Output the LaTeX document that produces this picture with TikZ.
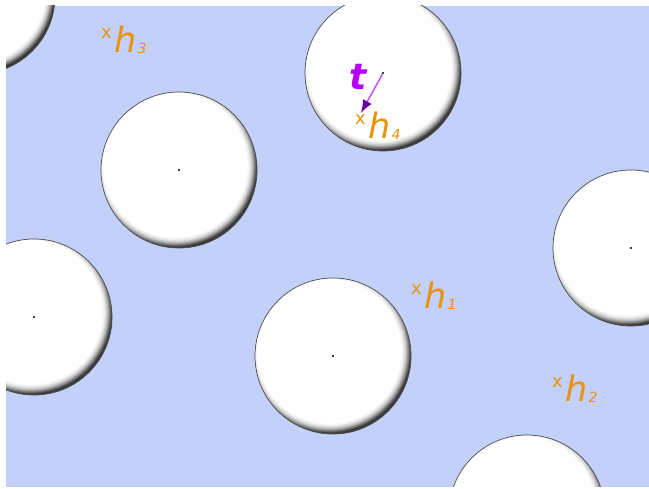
\documentclass[tikz,border=0pt]{standalone}
\usepackage{fontspec}
\setmainfont{DejaVu Sans}
\usetikzlibrary{arrows.meta,calc}
\definecolor{bgblue}{RGB}{195,209,250}
\definecolor{horange}{RGB}{234,146,12}
\definecolor{tviolet}{RGB}{184,0,255}
\definecolor{arrviolet}{RGB}{198,80,255}
\definecolor{headviolet}{RGB}{105,0,160}
\newcommand\hlab[1]{\raisebox{14pt}{\fontsize{18}{18}\selectfont\color{horange}x}\hspace{3pt}{\fontsize{35}{35}\selectfont\itshape h}\hspace{0.5pt}\raisebox{-1pt}{\fontsize{14}{14}\selectfont\itshape #1}}
\newcommand\ballat[1]{%
  \fill[white] (#1) circle[radius=78pt];
  \begin{scope}
    \clip (#1) circle[radius=78pt];
    \foreach \j in {0,...,19}{
      \pgfmathsetmacro\op{0.012+0.00045*\j*\j}
      \fill[black, opacity=\op, even odd rule] (#1) circle[radius=80pt]
        ($(#1)+(-3.6,-4.6)$) circle[radius={72pt+\j*0.5pt}];
    }
  \end{scope}
  \draw[black!70, line width=0.7pt] (#1) circle[radius=78pt];
}
\tikzset{
  cdot/.style={fill=black!75, inner sep=0pt, minimum size=2.2pt, rectangle},
  hlabel/.style={anchor=base west, inner sep=0pt, text=horange},
}
\begin{document}
\begin{tikzpicture}[x=1pt,y=-1pt]
\useasboundingbox (0,0) rectangle (649,489);
\fill[white] (0,0) rectangle (649,489);
\begin{scope}
\clip (6,6) rectangle (649,487);
\fill[bgblue] (6,6) rectangle (649,487);
\coordinate (c1) at (-23,-4);
\coordinate (c2) at (383,73);
\coordinate (c3) at (179,170);
\coordinate (c4) at (34,317);
\coordinate (c5) at (333,356);
\coordinate (c6) at (631,248);
\coordinate (c7) at (527,513);
\foreach \c in {c1,c2,c3,c4,c5,c6,c7}{
  \ballat{\c}
}
\foreach \c in {c2,c3,c4,c5,c6}{
  \node[cdot] (d\c) at (\c) {};
}
\coordinate (tip) at (361,113);
\draw[arrviolet, line width=1.5pt, -{Latex[length=13pt,width=10pt,fill=headviolet,color=headviolet]}] (dc2) -- (tip);
\node[anchor=base west, inner sep=0pt, text=tviolet] (t) at (349,90) {\fontsize{36}{36}\selectfont\bfseries\itshape t};
\node[hlabel] (h3) at (101,53) {\hlab{3}};
\node[hlabel] (h1) at (411,309) {\hlab{1}};
\node[hlabel] (h2) at (552,402) {\hlab{2}};
\node[hlabel] (h4) at (355,139) {\hlab{4}};
\end{scope}
\end{tikzpicture}
\end{document}
